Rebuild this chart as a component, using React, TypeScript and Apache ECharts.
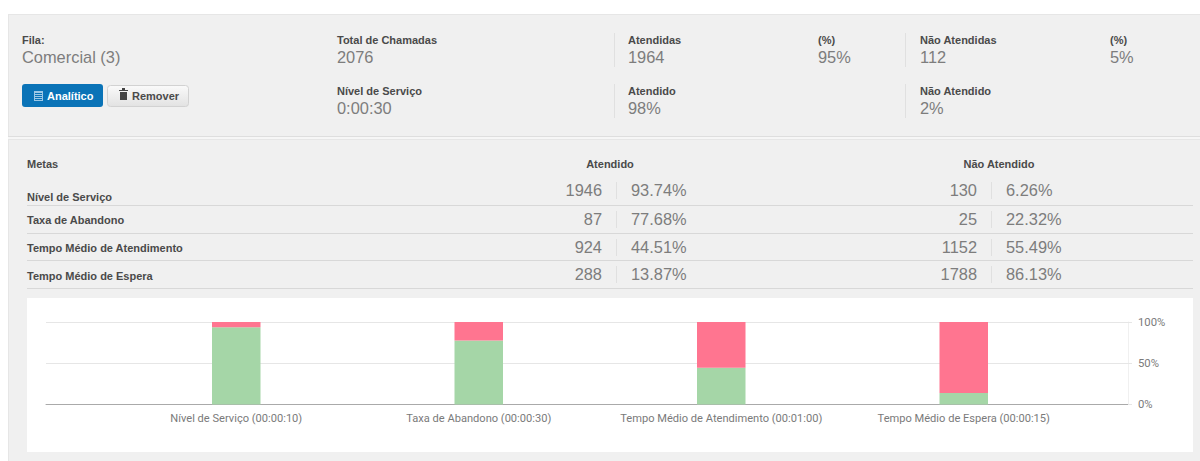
import React, { useEffect, useRef } from "react";
import * as echarts from "echarts";

const goalNames = ["Nível de Serviço", "Taxa de Abandono", "Tempo Médio de Atendimento", "Tempo Médio de Espera"];
const chartCategories = ["Nível de Serviço (00:00:10)", "Taxa de Abandono (00:00:30)", "Tempo Médio de Atendimento (00:01:00)", "Tempo Médio de Espera (00:00:15)"];
const metCounts = [1946, 87, 924, 288];
const metPercents = [93.74, 77.68, 44.51, 13.87];
const missedCounts = [130, 25, 1152, 1788];
const missedPercents = [6.26, 22.32, 55.49, 86.13];
const yTicks = [0, 50, 100];

const FONT = "'Liberation Sans', Arial, sans-serif";
const DARK = "#4a4a4a";
const VALUE = "#7d7d7d";
const LINE = "#d8d8d8";

const label = (x: number, y: number, text: string, align = "left") => ({
  type: "text", x, y, z: 5,
  style: { text, fontFamily: FONT, fontSize: 11, fontWeight: 700, fill: DARK, align, verticalAlign: "middle" },
});
const value = (x: number, y: number, text: string, align = "left") => ({
  type: "text", x, y, z: 5,
  style: { text, fontFamily: FONT, fontSize: 16.4, fill: VALUE, align, verticalAlign: "middle" },
});
const box = (x: number, y: number, width: number, height: number, fill: any, extra: any = {}) => ({
  type: "rect", z: -10, shape: { x, y, width, height, ...(extra.shape || {}) },
  style: { fill, ...(extra.style || {}) },
});
const vLine = (x: number, y1: number, y2: number) => box(x, y1, 1, y2 - y1, "#e0e0e0");
const hLine = (y: number) => box(27, y, 1166, 1, LINE);

const rowLabelY = [197, 220, 248, 276];
const rowValueY = [190, 219, 247, 274];
const rowLineY = [205, 233, 260, 288];

function buildGraphic() {
  const els: any[] = [
    box(8, 14, 1192, 447, "#f0f0f0"),
    box(8, 14, 1192, 1, "#e6e6e6"),
    box(8, 14, 1, 447, "#e6e6e6"),
    box(8, 136, 1192, 1, "#dedede"),
    box(8, 137, 1192, 2, "#f6f6f6"),
    box(8, 139, 1192, 1, "#e6e6e6"),
    box(27, 298, 1166, 154, "#ffffff"),
    vLine(614, 33, 67), vLine(905, 33, 67), vLine(614, 84, 118), vLine(905, 84, 118),
    label(22, 40, "Fila:"), value(22, 57, "Comercial (3)"),
    label(337, 40, "Total de Chamadas"), value(337, 57, "2076"),
    label(628, 40, "Atendidas"), value(628, 57, "1964"),
    label(818, 40, "(%)"), value(818, 57, "95%"),
    label(920, 40, "Não Atendidas"), value(920, 57, "112"),
    label(1110, 40, "(%)"), value(1110, 57, "5%"),
    label(337, 91, "Nível de Serviço"), value(337, 108, "0:00:30"),
    label(628, 91, "Atendido"), value(628, 108, "98%"),
    label(920, 91, "Não Atendido"), value(920, 108, "2%"),
    label(27, 164, "Metas"), label(610, 164, "Atendido", "center"), label(999, 164, "Não Atendido", "center"),
    // Analítico button
    { type: "rect", z: 1, shape: { x: 22, y: 84, width: 81, height: 23, r: 3 }, style: { fill: "#0a73b7" } },
    { type: "rect", z: 2, shape: { x: 34, y: 91, width: 9, height: 10 }, style: { fill: "#9cc8e6" } },
    ...[93, 95, 97, 99].map((y) => ({ type: "rect", z: 3, shape: { x: 35, y, width: 7, height: 1 }, style: { fill: "#0a73b7" } })),
    { type: "text", x: 47, y: 95.5, z: 5, style: { text: "Analítico", fontFamily: FONT, fontSize: 11, fontWeight: 700, fill: "#ffffff", verticalAlign: "middle" } },
    // Remover button
    {
      type: "rect", z: 1, shape: { x: 107.5, y: 85.5, width: 81, height: 21, r: 3 },
      style: { fill: new echarts.graphic.LinearGradient(0, 0, 0, 1, [{ offset: 0, color: "#fafafa" }, { offset: 1, color: "#e2e2e2" }]), stroke: "#d2d2d2", lineWidth: 1 },
    },
    { type: "rect", z: 2, shape: { x: 119, y: 90, width: 9, height: 1 }, style: { fill: "#444" } },
    { type: "rect", z: 2, shape: { x: 122, y: 88, width: 3, height: 2 }, style: { fill: "#444" } },
    { type: "rect", z: 2, shape: { x: 120, y: 92, width: 7, height: 8 }, style: { fill: "#444" } },
    { type: "text", x: 132, y: 95.5, z: 5, style: { text: "Remover", fontFamily: FONT, fontSize: 11, fontWeight: 700, fill: DARK, verticalAlign: "middle" } },
  ];
  goalNames.forEach((name, i) => {
    els.push(label(27, rowLabelY[i], name));
    els.push(value(602, rowValueY[i], String(metCounts[i]), "right"));
    els.push(value(631, rowValueY[i], metPercents[i].toFixed(2) + "%"));
    els.push(value(977, rowValueY[i], String(missedCounts[i]), "right"));
    els.push(value(1006, rowValueY[i], missedPercents[i].toFixed(2) + "%"));
    els.push(vLine(616, rowValueY[i] - 8, rowValueY[i] + 9));
    els.push(vLine(991, rowValueY[i] - 8, rowValueY[i] + 9));
    els.push(hLine(rowLineY[i]));
  });
  return els;
}

export default function App() {
  const ref = useRef<HTMLDivElement>(null);
  useEffect(() => {
    const chart = echarts.init(ref.current!, undefined, { renderer: "svg" });
    chart.setOption({
      animation: false,
      backgroundColor: "#ffffff",
      graphic: { elements: buildGraphic() },
      grid: [
        { left: 46, top: 322, width: 1082, height: 82.5 },
        { left: 115, top: 322, width: 970, height: 82.5 },
      ],
      xAxis: [
        {
          gridIndex: 0, type: "category", data: [""],
          axisLine: { lineStyle: { color: "#aaaaaa" } }, axisTick: { show: false }, axisLabel: { show: false },
        },
        {
          gridIndex: 1, type: "category", data: chartCategories,
          axisLine: { show: false }, axisTick: { show: false },
          axisLabel: { interval: 0, margin: 8, fontFamily: "Roboto, " + FONT, fontSize: 11.1, color: "#7a7a7a" },
        },
      ],
      yAxis: [
        {
          gridIndex: 0, type: "value", position: "right", min: 0, max: 100, interval: 50,
          axisLine: { show: true, lineStyle: { color: "#f0f0f0" } },
          axisTick: { show: true, length: 4, lineStyle: { color: "#e6e6e6" } },
          splitLine: { lineStyle: { color: "#e6e6e6" } },
          axisLabel: {
            margin: 10, fontFamily: "Roboto, " + FONT, fontSize: 11.3, color: "#7a7a7a",
            padding: [0, 0, 4, 0],
            formatter: (v: number) => (yTicks.includes(v) ? v + "%" : ""),
          },
        },
        { gridIndex: 1, type: "value", min: 0, max: 100, show: false },
      ],
      series: [
        {
          name: "Atendido", type: "bar", stack: "total", xAxisIndex: 1, yAxisIndex: 1,
          barWidth: 48.5, data: metPercents, itemStyle: { color: "#a5d6a7" },
        },
        {
          name: "Não Atendido", type: "bar", stack: "total", xAxisIndex: 1, yAxisIndex: 1,
          barWidth: 48.5, data: missedPercents, itemStyle: { color: "#ff7590" },
        },
      ],
    });
    return () => chart.dispose();
  }, []);
  return <div ref={ref} style={{ position: "absolute", left: 0, top: 0, width: 1200, height: 461 }} />;
}
